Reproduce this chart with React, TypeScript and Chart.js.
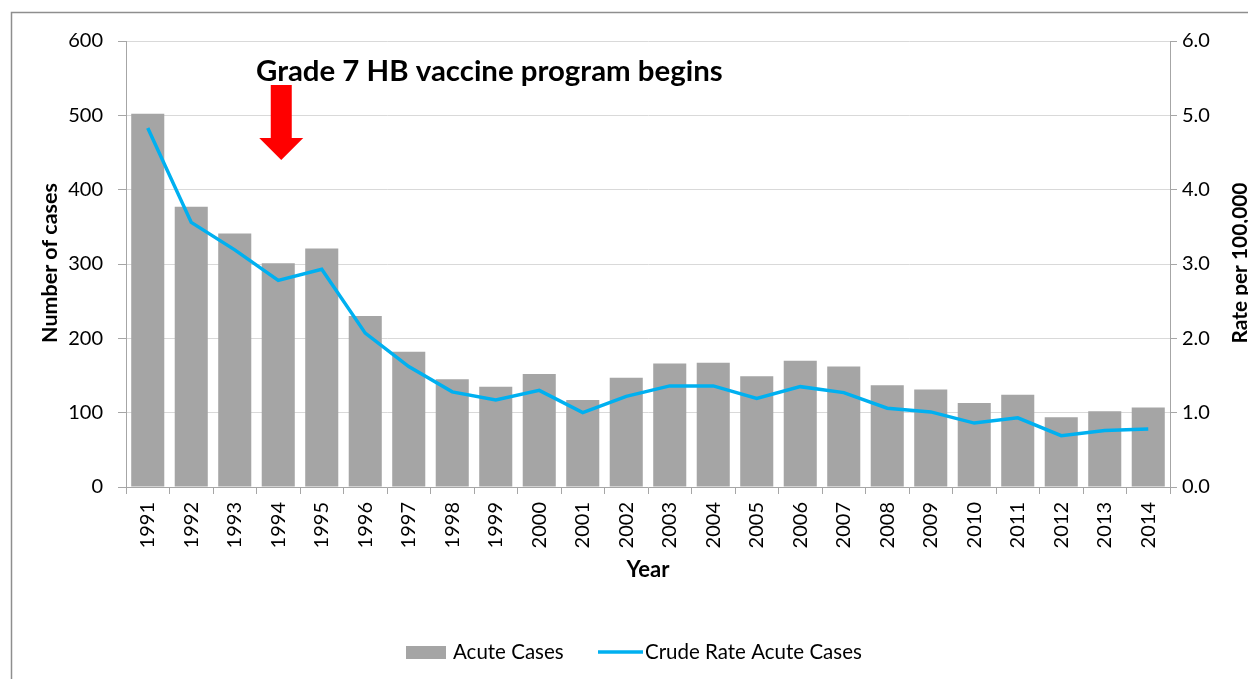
import React, { useEffect, useRef } from "react";
import { Chart, registerables } from "chart.js";

Chart.register(...registerables);

const years = ["1991","1992","1993","1994","1995","1996","1997","1998","1999","2000","2001","2002","2003","2004","2005","2006","2007","2008","2009","2010","2011","2012","2013","2014"];
const acuteCases = [502,377,341,301,321,230,182,145,135,152,117,147,166,167,149,170,162,137,131,113,124,94,102,107];
const crudeRate = [4.83,3.56,3.19,2.78,2.93,2.07,1.62,1.28,1.17,1.30,1.00,1.22,1.36,1.36,1.19,1.35,1.27,1.06,1.01,0.86,0.93,0.69,0.76,0.78];
const casesAxis = { min: 0, max: 600, step: 100 };
const rateAxis = { min: 0, max: 6, step: 1 };
const annotationText = "Grade 7 HB vaccine program begins";
const annotationYear = "1994";
const leftTitle = "Number of cases";
const rightTitle = "Rate per 100,000";
const xTitle = "Year";
const legendLabels = ["Acute Cases", "Crude Rate Acute Cases"];

const BAR = "#A5A5A5";
const LINE = "#00B0F0";
const AXIS = "#A6A6A6";
const GRID = "#D9D9D9";
const FONT = "Lato, 'Open Sans', sans-serif";
const W = 1248;
const H = 679;

function fitText(ctx: CanvasRenderingContext2D, text: string, weight: string, target: number) {
  const base = 20;
  ctx.font = `${weight} ${base}px ${FONT}`;
  const w = ctx.measureText(text).width;
  const size = (base * target) / w;
  ctx.font = `${weight} ${size}px ${FONT}`;
  return size;
}

const decorPlugin = {
  id: "decor",
  beforeDraw(chart: any) {
    const ctx = chart.ctx as CanvasRenderingContext2D;
    ctx.save();
    ctx.fillStyle = "#fff";
    ctx.fillRect(0, 0, W, H);
    ctx.strokeStyle = "#8E8E8E";
    ctx.lineWidth = 1.5;
    ctx.beginPath();
    ctx.moveTo(11.5, H);
    ctx.lineTo(11.5, 12.5);
    ctx.lineTo(W, 12.5);
    ctx.stroke();
    ctx.restore();
  },
  afterDraw(chart: any) {
    const ctx = chart.ctx as CanvasRenderingContext2D;
    const xs = chart.scales.x;
    ctx.save();
    ctx.fillStyle = "#000";

    // annotation text
    fitText(ctx, annotationText, "bold", 467);
    ctx.textAlign = "left";
    ctx.textBaseline = "alphabetic";
    ctx.fillText(annotationText, 256, 81);

    // arrow
    const ax = xs.getPixelForValue(years.indexOf(annotationYear)) + 3;
    ctx.fillStyle = "#FF0000";
    ctx.beginPath();
    ctx.moveTo(ax - 10.5, 85);
    ctx.lineTo(ax + 10.5, 85);
    ctx.lineTo(ax + 10.5, 138);
    ctx.lineTo(ax + 22, 138);
    ctx.lineTo(ax, 160);
    ctx.lineTo(ax - 22, 138);
    ctx.lineTo(ax - 10.5, 138);
    ctx.closePath();
    ctx.fill();

    ctx.fillStyle = "#000";
    ctx.textAlign = "center";
    ctx.textBaseline = "middle";

    // left title
    ctx.save();
    ctx.translate(50, 263);
    ctx.rotate(-Math.PI / 2);
    fitText(ctx, leftTitle, "bold", 160);
    ctx.fillText(leftTitle, 0, 0);
    ctx.restore();

    // right title
    ctx.save();
    ctx.translate(1240, 263);
    ctx.rotate(-Math.PI / 2);
    fitText(ctx, rightTitle, "bold", 161);
    ctx.fillText(rightTitle, 0, 0);
    ctx.restore();

    // x title
    fitText(ctx, xTitle, "bold", 43);
    ctx.fillText(xTitle, (chart.chartArea.left + chart.chartArea.right) / 2, 570);

    // legend
    ctx.textAlign = "left";
    ctx.font = `20.5px ${FONT}`;
    ctx.fillStyle = BAR;
    ctx.fillRect(406, 646, 40, 13);
    ctx.fillStyle = "#000";
    ctx.fillText(legendLabels[0], 453, 652);
    ctx.strokeStyle = LINE;
    ctx.lineWidth = 3.5;
    ctx.beginPath();
    ctx.moveTo(598, 652);
    ctx.lineTo(643, 652);
    ctx.stroke();
    ctx.fillText(legendLabels[1], 645, 652);
    ctx.restore();
  },
};

export default function App() {
  const ref = useRef<HTMLCanvasElement | null>(null);
  useEffect(() => {
    if (!ref.current) return;
    const tickFont = { family: FONT, size: 20 };
    const chart = new Chart(ref.current, {
      type: "bar",
      data: {
        labels: years,
        datasets: [
          {
            type: "line",
            label: legendLabels[1],
            data: crudeRate,
            yAxisID: "y1",
            borderColor: LINE,
            backgroundColor: LINE,
            borderWidth: 3.5,
            pointRadius: 0,
            tension: 0,
            order: 0,
          } as any,
          {
            type: "bar",
            label: legendLabels[0],
            data: acuteCases,
            yAxisID: "y",
            backgroundColor: BAR,
            borderWidth: 0,
            categoryPercentage: 1,
            barPercentage: 0.76,
            order: 1,
          },
        ],
      },
      options: {
        responsive: false,
        animation: false,
        events: [],
        layout: { padding: { top: 41, left: 0, right: 0, bottom: 0 } },
        plugins: { legend: { display: false }, tooltip: { enabled: false } },
        scales: {
          x: {
            offset: true,
            grid: { offset: true, drawOnChartArea: false, tickLength: 7, tickColor: AXIS, color: AXIS },
            border: { color: AXIS, width: 1 },
            ticks: { font: tickFont, color: "#000", minRotation: 90, maxRotation: 90, autoSkip: false, padding: 8 },
            afterFit: (s: any) => { s.height = 192; },
          },
          y: {
            position: "left",
            min: casesAxis.min,
            max: casesAxis.max,
            grid: { color: GRID, tickColor: AXIS, tickLength: 8 },
            border: { color: AXIS, width: 1 },
            ticks: { stepSize: casesAxis.step, font: tickFont, color: "#000", padding: 15 },
            afterFit: (s: any) => { s.width = 126; },
          },
          y1: {
            position: "right",
            min: rateAxis.min,
            max: rateAxis.max,
            grid: { drawOnChartArea: false, tickColor: AXIS, tickLength: 7 },
            border: { color: AXIS, width: 1 },
            ticks: { stepSize: rateAxis.step, font: tickFont, color: "#000", padding: 5, callback: (v: any) => Number(v).toFixed(1) },
            afterFit: (s: any) => { s.width = 78; },
          },
        },
      },
      plugins: [decorPlugin],
    });
    return () => chart.destroy();
  }, []);
  return (
    <div style={{ position: "fixed", left: 0, top: 0, width: W, height: H, background: "#fff" }}>
      <canvas ref={ref} width={W} height={H} style={{ display: "block", width: W, height: H }} />
    </div>
  );
}
